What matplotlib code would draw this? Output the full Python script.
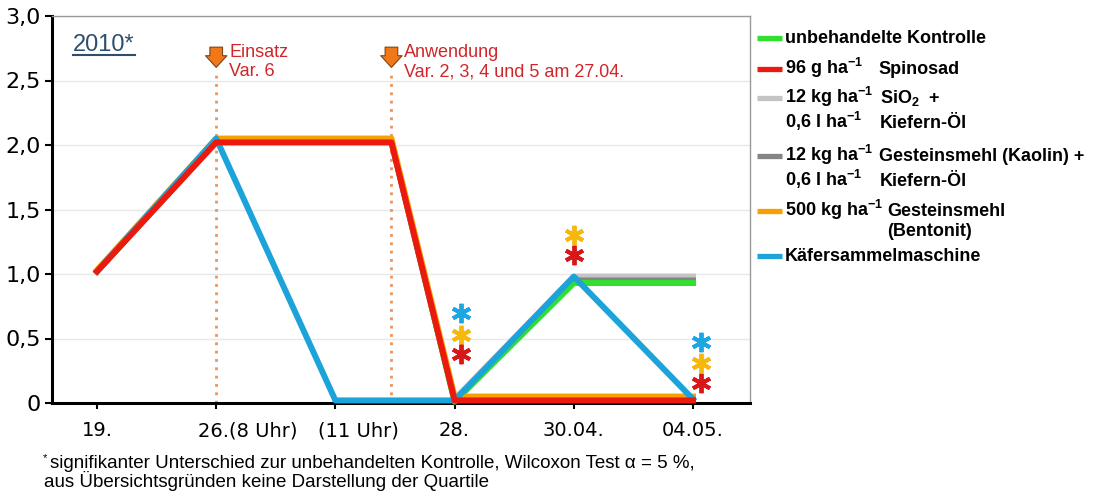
import matplotlib
matplotlib.use("Agg")
import matplotlib.pyplot as plt
import numpy as np
from matplotlib.lines import Line2D
from matplotlib.transforms import ScaledTranslation

# data
tick_labels = ["19.", "26.(8 Uhr)", "(11 Uhr)", "28.", "30.04.", "04.05."]
x_ticks = [0, 1, 2, 3, 4, 5]
x_all = [0, 1, 2, 2.47, 3, 4, 5]   # 2.47 = application on 27.04.

kontrolle = [1.02, 2.03, 2.03, 2.03, 0.01, 0.93, 0.93]
spinosad = [1.02, 2.02, 2.02, 2.02, 0.02, 0.02, 0.02]
sio2 = [1.02, 2.03, 2.03, 2.03, 0.03, 0.98, 0.98]
kaolin = [1.02, 2.03, 2.03, 2.03, 0.02, 0.95, 0.95]
bentonit = [1.03, 2.05, 2.05, 2.05, 0.05, 0.05, 0.05]
kaefer = [1.02, 2.05, 0.02, 0.02, 0.02, 0.98, 0.03]

# significance asterisks
sig_blue_x = [3.05, 5.07]
sig_blue_y = [0.70, 0.47]
sig_orange_x = [3.05, 4.0, 5.07]
sig_orange_y = [0.53, 1.30, 0.31]
sig_red_x = [3.05, 4.0, 5.07]
sig_red_y = [0.38, 1.15, 0.155]

event_x = [1, 2.47]
event_titles = ["Einsatz", "Anwendung"]
event_subs = ["Var. 6", "Var. 2, 3, 4 und 5 am 27.04."]

y_ticks = [0, 0.5, 1.0, 1.5, 2.0, 2.5, 3.0]
y_labels = ["0", "0,5", "1,0", "1,5", "2,0", "2,5", "3,0"]

c_green = "#2fe02f"
c_red = "#ec1a0e"
c_lgrey = "#c4c4c4"
c_dgrey = "#858585"
c_orange = "#f7a000"
c_blue = "#1ca3da"

W, H = 1098, 492


def fx(px):
    return px / W


def fy(py):
    return 1 - py / H


plt.rcParams["mathtext.fontset"] = "custom"
plt.rcParams["mathtext.rm"] = "Liberation Sans:bold"
plt.rcParams["mathtext.bf"] = "Liberation Sans:bold"
plt.rcParams["mathtext.it"] = "Liberation Sans:bold"
plt.rcParams["mathtext.default"] = "regular"

fig = plt.figure(figsize=(W / 100, H / 100), dpi=100)
ax = fig.add_axes([fx(52), fy(403), (750 - 52) / W, (403 - 16) / H])

series = [
    (sio2, c_lgrey),
    (kaolin, c_dgrey),
    (kontrolle, c_green),
    (bentonit, c_orange),
    (kaefer, c_blue),
    (spinosad, c_red),
]
for vals, col in series:
    ax.plot(x_all, vals, color=col, lw=4.3, zorder=3, clip_on=False)

# asterisks
for xs, ys, col in [(sig_blue_x, sig_blue_y, "#1ea6e0"),
                    (sig_orange_x, sig_orange_y, "#f6b80c"),
                    (sig_red_x, sig_red_y, "#d81818")]:
    ax.plot(xs, ys, ls="none", marker=(6, 2, 0), markersize=14,
            markeredgewidth=2.8, color=col, zorder=4)

# axes styling
ax.set_xlim(-0.3775, 5.478)
ax.set_ylim(0, 3)
ax.set_yticks(y_ticks, y_labels)
ax.set_xticks(x_ticks, tick_labels)
ax.yaxis.grid(True, color="#e8e8e8", lw=1)
ax.set_axisbelow(True)
for s in ["left", "bottom"]:
    ax.spines[s].set_linewidth(2.2)
    ax.spines[s].set_color("black")
for s in ["top", "right"]:
    ax.spines[s].set_linewidth(1)
    ax.spines[s].set_color("#9a9a9a")
ax.tick_params(axis="y", length=5, width=1.5, direction="out", pad=3, labelsize=16)
ax.tick_params(axis="x", length=4, width=1.5, direction="out", pad=9, labelsize=14)

label_shift = {1: 32, 2: 23}
ticks = ax.xaxis.get_major_ticks()
for i, dx in label_shift.items():
    lab = ticks[i].label1
    lab.set_transform(lab.get_transform() + ScaledTranslation(dx / 100, 0, fig.dpi_scale_trans))

# event lines, arrows and labels
ax.vlines(event_x, 0, 2.57, colors="#e8945c", linestyles=(0, (1, 2)), lw=2, zorder=2)
for ex, t1, t2 in zip(event_x, event_titles, event_subs):
    ax.annotate("", xy=(ex, 2.58), xytext=(ex, 2.78),
                arrowprops=dict(arrowstyle="simple,head_length=0.6,head_width=1.1,tail_width=0.65",
                                fc="#f07818", ec="#7a4418", lw=0.8, mutation_scale=14))
    ax.annotate(t1, xy=(ex, 2.72), xytext=(13, 0), textcoords="offset pixels",
                ha="left", va="center", fontsize=13, color="#d0262a",
                family="Liberation Sans")
    ax.annotate(t2, xy=(ex, 2.566), xytext=(13, 0), textcoords="offset pixels",
                ha="left", va="center", fontsize=13, color="#d0262a",
                family="Liberation Sans")

# year label with underline
yr = ax.text(-0.2, 2.775, "2010*", ha="left", va="center", fontsize=17,
             color="#2f4e6e", family="Liberation Sans")
fig.canvas.draw()
bb = yr.get_window_extent()
fig.add_artist(Line2D([bb.x0 / W, bb.x1 / W], [(bb.y0 + 1) / H] * 2,
                      color="#2f4e6e", lw=1.5))

# legend drawn by hand
leg_font = dict(fontsize=13, fontweight="bold", family="Liberation Sans", va="baseline")
ha1 = r"ha$^{-1}$"
rows = [
    (37, c_green, "unbehandelte Kontrolle", None, None),
    (68, c_red, "96 g " + ha1, "Spinosad", 878),
    (97, c_lgrey, "12 kg " + ha1, "SiO$_2$  +", 880),
    (122, None, "0,6 l " + ha1, "Kiefern-Öl", 880),
    (155, c_dgrey, "12 kg " + ha1, "Gesteinsmehl (Kaolin) +", 879),
    (180, None, "0,6 l " + ha1, "Kiefern-Öl", 880),
    (210, c_orange, "500 kg " + ha1, "Gesteinsmehl", 887),
    (230, None, "", "(Bentonit)", 887),
    (255, c_blue, "Käfersammelmaschine", None, None),
]
for y, col, t1, t2, x2 in rows:
    if col is not None:
        fig.add_artist(Line2D([fx(757), fx(782)], [fy(y + 1)] * 2, color=col, lw=3.8,
                              solid_capstyle="butt"))
    if t1:
        fig.text(fx(785), fy(y + 6), t1, **leg_font)
    if t2:
        fig.text(fx(x2), fy(y + 6), t2, **leg_font)

# footnote
fig.text(fx(43), fy(458), "*", fontsize=8, family="Liberation Sans", va="center")
fig.text(fx(50), fy(463), "signifikanter Unterschied zur unbehandelten Kontrolle, Wilcoxon Test α = 5 %,",
         fontsize=13.5, family="Liberation Sans", va="center")
fig.text(fx(44), fy(481), "aus Übersichtsgründen keine Darstellung der Quartile",
         fontsize=13.5, family="Liberation Sans", va="center")

fig.savefig("out.png", dpi=100)
